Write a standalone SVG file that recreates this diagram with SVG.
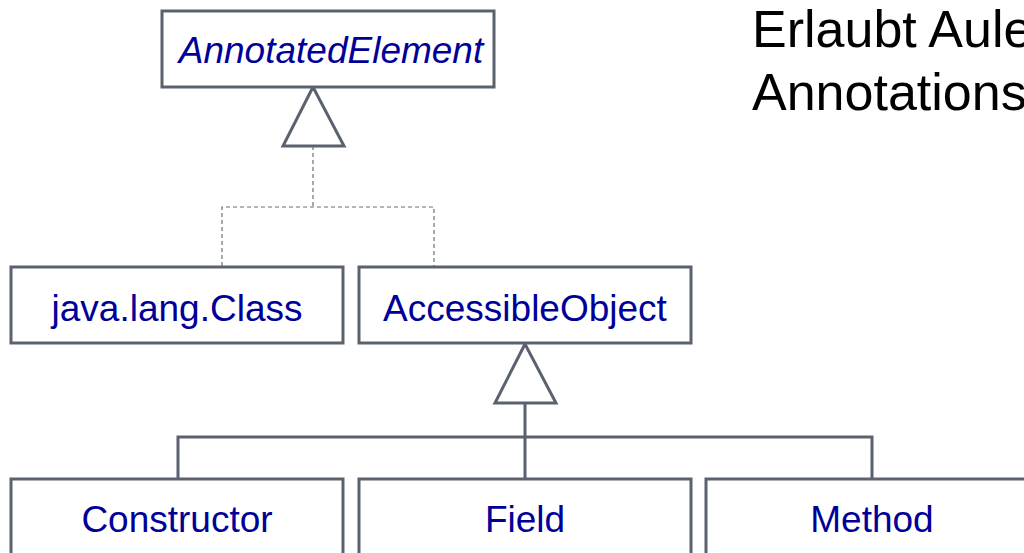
<svg xmlns="http://www.w3.org/2000/svg" width="1024" height="553" viewBox="0 0 1024 553">
  <style>
    .box { fill: #ffffff; stroke: #5a626e; stroke-width: 3; }
    .lbl { font-family: "Liberation Sans", Arial, sans-serif; font-size: 37px; fill: #000099; text-anchor: middle; }
    .it { font-style: italic; }
    .gen { fill: #ffffff; stroke: #5a626e; stroke-width: 3; }
    .solid { fill: none; stroke: #5a626e; stroke-width: 3; }
    .dash { fill: none; stroke: #6a6f78; stroke-width: 1.2; stroke-dasharray: 4 3; }
    .note { font-family: "Liberation Sans", Arial, sans-serif; font-size: 52px; fill: #000000; }
  </style>

  <!-- connectors -->
  <g id="connectors">
    <path class="dash" d="M313 146 V207 M222 266 V207 H434 V266"/>
    <polygon class="gen" points="313,87 283,146 344,146"/>
    <path class="solid" d="M525 403 V478 M178 478 V437 H872 V478"/>
    <polygon class="gen" points="525,344 495,403 556,403"/>
  </g>

  <g id="AnnotatedElement">
    <rect class="box" x="162" y="11" width="332" height="76"/>
    <text class="lbl it" x="331" y="63">AnnotatedElement</text>
  </g>
  <g id="JavaLangClass">
    <rect class="box" x="11" y="267" width="332" height="76"/>
    <text class="lbl" x="177" y="321">java.lang.Class</text>
  </g>
  <g id="AccessibleObject">
    <rect class="box" x="359" y="267" width="332" height="76"/>
    <text class="lbl" x="525" y="321">AccessibleObject</text>
  </g>
  <g id="Constructor">
    <rect class="box" x="11" y="479" width="332" height="90"/>
    <text class="lbl" x="177" y="532">Constructor</text>
  </g>
  <g id="Field">
    <rect class="box" x="359" y="479" width="332" height="90"/>
    <text class="lbl" x="525" y="532">Field</text>
  </g>
  <g id="Method">
    <rect class="box" x="706" y="479" width="332" height="90"/>
    <text class="lbl" x="872" y="532">Method</text>
  </g>

  <text class="note" x="752" y="47">Erlaubt Aule</text>
  <text class="note" x="752" y="110">Annotations</text>
</svg>
